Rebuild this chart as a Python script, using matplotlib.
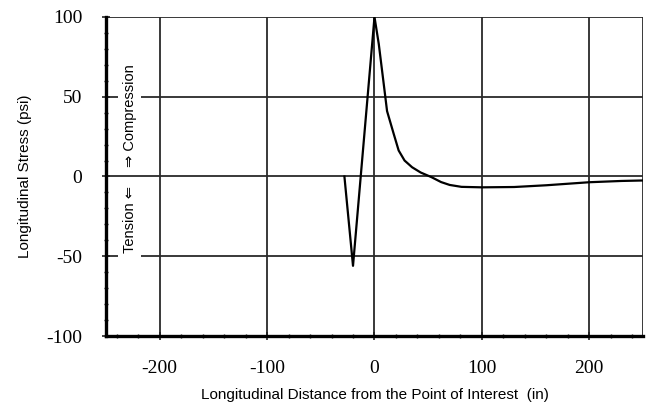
import numpy as np
import matplotlib.pyplot as plt
from matplotlib.ticker import MultipleLocator

plt.rcParams['axes.unicode_minus'] = False

# Stress profile
distance = [-28, -20, -10, 0, 4, 8.6, 11.7, 17.9, 22.5, 28, 35, 43, 53, 62, 70, 81,
            100, 130, 160, 200, 230, 250]
stress = [0, -56, 22, 100, 83, 58, 41, 26.7, 16.3, 10, 5.8, 2.5, -0.4, -3.5, -5.3, -6.5,
          -6.8, -6.6, -5.5, -3.6, -2.8, -2.5]

x_ticks = [-200, -100, 0, 100, 200]
y_ticks = [-100, -50, 0, 50, 100]

fig = plt.figure(figsize=(6.57, 4.04), dpi=100)
ax = fig.add_axes([0.1613, 0.1683, 0.8174, 0.7897])

# Grid lines
for xv in x_ticks:
    ax.axvline(xv, color='#2a2a2a', linewidth=1.3, zorder=1)
for yv in y_ticks:
    ax.axhline(yv, color='#2a2a2a', linewidth=1.3, zorder=1 if yv != 0 else 2.5)
ax.axvline(250, color='#2a2a2a', linewidth=1.3, zorder=1)

ax.plot(distance, stress, color='black', linewidth=1.6, zorder=3)

ax.set_xlim(-250, 250)
ax.set_ylim(-100, 100)
ax.set_xticks(x_ticks)
ax.set_yticks(y_ticks)
ax.xaxis.set_minor_locator(MultipleLocator(20))
ax.yaxis.set_minor_locator(MultipleLocator(10))
ax.tick_params(which='both', direction='inout', color='#222222')
ax.tick_params(which='major', length=6, width=1.2)
ax.tick_params(axis='x', which='major', pad=14)
ax.tick_params(axis='y', which='major', pad=14)
ax.tick_params(which='minor', length=3, width=1)
for lab in ax.get_xticklabels() + ax.get_yticklabels():
    lab.set_family('Liberation Serif')
    lab.set_fontsize(14)

for side in ['left', 'bottom']:
    ax.spines[side].set_linewidth(2.4)
for side in ['top', 'right']:
    ax.spines[side].set_visible(False)

ax.set_xlabel('Longitudinal Distance from the Point of Interest  (in)',
              family='Liberation Sans', fontsize=11, labelpad=8)
ax.set_ylabel('Longitudinal Stress (psi)', family='Liberation Sans', fontsize=11, labelpad=10)

# Tension / compression annotation
ax.text(-228, 6, '\u21d2 Compression', rotation=90, ha='center', va='bottom',
        family=['Liberation Sans', 'DejaVu Sans'], fontsize=10.5, zorder=2,
        bbox=dict(facecolor='white', edgecolor='none', pad=3))
ax.text(-228, -6, 'Tension \u21d0', rotation=90, ha='center', va='top',
        family=['Liberation Sans', 'DejaVu Sans'], fontsize=10.5, zorder=2,
        bbox=dict(facecolor='white', edgecolor='none', pad=3))

plt.savefig('out.png', dpi=100)
